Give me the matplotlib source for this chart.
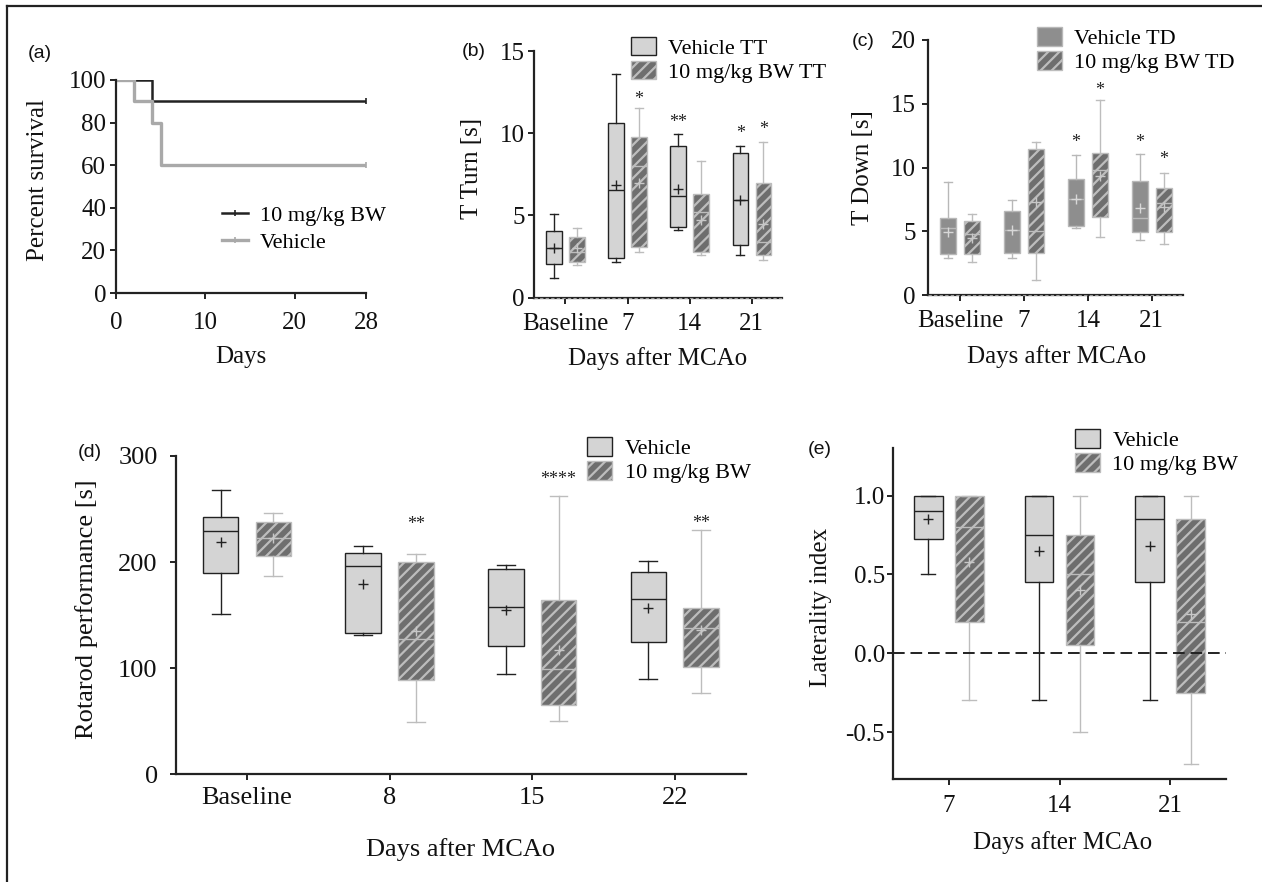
import matplotlib
matplotlib.use("Agg")
import matplotlib.pyplot as plt
from matplotlib.patches import Patch
from matplotlib.lines import Line2D
import matplotlib.transforms as mtransforms

# ---------------- data ----------------
# (a) survival
a_days_drug = [0, 4, 28]
a_surv_drug = [100, 90, 90]
a_days_veh = [0, 2, 4, 5, 28]
a_surv_veh = [100, 90, 80, 60, 60]
a_xticks = [0, 10, 20, 28]
a_yticks = [0, 20, 40, 60, 80, 100]

# (b) T Turn
b_categories = ["Baseline", "7", "14", "21"]
b_veh_low = [1.2, 2.17, 4.09, 2.57]
b_veh_q1 = [2.03, 2.41, 4.32, 3.18]
b_veh_med = [3.0, 6.53, 6.16, 5.92]
b_veh_q3 = [4.03, 10.64, 9.24, 8.82]
b_veh_high = [5.07, 13.58, 9.97, 9.2]
b_veh_mean = [3.04, 6.85, 6.63, 5.92]
b_drug_low = [1.99, 2.78, 2.57, 2.29]
b_drug_q1 = [2.15, 3.06, 2.78, 2.57]
b_drug_med = [2.75, 8.0, 5.21, 3.39]
b_drug_q3 = [3.67, 9.79, 6.28, 6.99]
b_drug_high = [4.26, 11.51, 8.29, 9.49]
b_drug_mean = [3.0, 6.95, 4.72, 4.48]
b_veh_stars = ["", "", "**", "*"]
b_veh_star_y = [0, 0, 11.0, 10.3]
b_drug_stars = ["", "*", "", "*"]
b_drug_star_y = [0, 12.4, 0, 10.54]

# (c) T Down
c_categories = ["Baseline", "7", "14", "21"]
c_veh_low = [2.88, 2.88, 5.23, 4.29]
c_veh_q1 = [3.19, 3.32, 5.41, 4.92]
c_veh_med = [5.28, 5.1, 7.5, 6.07]
c_veh_q3 = [6.01, 6.56, 9.12, 8.94]
c_veh_high = [8.84, 7.45, 10.95, 11.06]
c_veh_mean = [4.97, 5.1, 7.5, 6.8]
c_drug_low = [2.56, 1.18, 4.55, 3.97]
c_drug_q1 = [3.19, 3.27, 6.14, 4.92]
c_drug_med = [4.76, 5.02, 9.8, 7.22]
c_drug_q3 = [5.83, 11.45, 11.14, 8.37]
c_drug_high = [6.38, 12.03, 15.29, 9.57]
c_drug_mean = [4.5, 7.3, 9.33, 6.94]
c_veh_stars = ["", "", "*", "*"]
c_veh_star_y = [0, 0, 12.4, 12.4]
c_drug_stars = ["", "", "*", "*"]
c_drug_star_y = [0, 0, 16.5, 11.1]

# (d) Rotarod
d_categories = ["Baseline", "8", "15", "22"]
d_veh_low = [151.4, 131, 94.6, 90.2]
d_veh_q1 = [189.4, 133.5, 120.6, 124.4]
d_veh_med = [229, 196.4, 157.7, 165]
d_veh_q3 = [242.5, 208.6, 193.2, 190.4]
d_veh_high = [267.7, 215.5, 197.3, 201.4]
d_veh_mean = [218.7, 179.7, 154.6, 157]
d_drug_low = [186.6, 49, 50.3, 76.3]
d_drug_q1 = [205.5, 88.9, 65, 100.8]
d_drug_med = [222.7, 127.5, 99.3, 137.6]
d_drug_q3 = [237.5, 199.8, 164, 156.5]
d_drug_high = [246, 208, 262.3, 230.6]
d_drug_mean = [223, 135, 117, 136]
d_drug_stars = ["", "**", "****", "**"]
d_drug_star_y = [0, 240.6, 282.7, 242]

# (e) Laterality index
e_categories = ["7", "14", "21"]
e_veh_low = [0.5, -0.3, -0.3]
e_veh_q1 = [0.726, 0.45, 0.45]
e_veh_med = [0.9, 0.75, 0.85]
e_veh_q3 = [1.0, 1.0, 1.0]
e_veh_high = [1.0, 1.0, 1.0]
e_veh_mean = [0.85, 0.65, 0.68]
e_drug_low = [-0.3, -0.5, -0.7]
e_drug_q1 = [0.2, 0.05, -0.25]
e_drug_med = [0.8, 0.5, 0.2]
e_drug_q3 = [1.0, 0.75, 0.85]
e_drug_high = [1.0, 1.0, 1.0]
e_drug_mean = [0.58, 0.4, 0.25]
e_yticks = [-0.5, 0.0, 0.5, 1.0]
e_yticklabels = ["-0.5", "0.0", "0.5", "1.0"]

# ---------------- style ----------------
SERIF = ["Liberation Serif", "DejaVu Serif"]
SANS = ["Liberation Sans", "DejaVu Sans"]
plt.rcParams["font.family"] = SERIF
plt.rcParams["hatch.linewidth"] = 1.6

W, H = 1262, 882
fig = plt.figure(figsize=(W / 100, H / 100), dpi=100)

DARK = "#222222"
LIGHT_FACE = "#d4d4d4"
HATCH_FACE = "#6e6e6e"
HATCH_EDGE = "#bdbdbd"
SOLID_FACE = "#8e8e8e"
SOLID_EDGE = "#b8b8b8"
HATCH = "///"


def add_ax(l, t, r, b):
    return fig.add_axes([l / W, 1 - b / H, (r - l) / W, (b - t) / H])


def fx(x):
    return x / W


def fy(y):
    return 1 - y / H


def style_axes(ax, labelsize=18, xpad=7, ypad=3):
    for s in ("top", "right"):
        ax.spines[s].set_visible(False)
    for s in ("left", "bottom"):
        ax.spines[s].set_linewidth(1.6)
        ax.spines[s].set_color(DARK)
    ax.tick_params(direction="out", length=4, width=1.4, color=DARK,
                   labelsize=labelsize, labelcolor="#111111")
    ax.tick_params(axis="x", pad=xpad)
    ax.tick_params(axis="y", pad=ypad)


def make_stats(lo, q1, med, q3, hi, mean):
    return [dict(whislo=a, q1=b, med=c, q3=d, whishi=e, mean=f, fliers=[])
            for a, b, c, d, e, f in zip(lo, q1, med, q3, hi, mean)]


def draw_boxes(ax, stats, positions, width, kind):
    if kind == "light":
        face, edge, line, lw = LIGHT_FACE, DARK, DARK, 1.0
        hatch = None
        meancol = DARK
    elif kind == "solid":
        face, edge, line, lw = SOLID_FACE, SOLID_EDGE, SOLID_EDGE, 1.0
        hatch = None
        meancol = "#d8d8d8"
    else:
        face, edge, line, lw = HATCH_FACE, HATCH_EDGE, HATCH_EDGE, 1.0
        hatch = HATCH
        meancol = "#c8c8c8"
    bp = dict(facecolor=face, edgecolor=edge, linewidth=lw)
    if hatch:
        bp["hatch"] = hatch
    ax.bxp(stats, positions=positions, widths=width, patch_artist=True,
           showmeans=True, showfliers=False, manage_ticks=False,
           boxprops=bp,
           whiskerprops=dict(color=line, linewidth=1.0),
           capprops=dict(color=line, linewidth=1.0),
           medianprops=dict(color=line, linewidth=1.0),
           meanprops=dict(marker="+", markeredgecolor=meancol,
                          markerfacecolor=meancol, markersize=7,
                          markeredgewidth=1.0))


def draw_stars(ax, positions, stars, ys, fs=13):
    tr = mtransforms.offset_copy(ax.transData, fig=fig, y=-0.56 * fs, units="points")
    for x, s, y in zip(positions, stars, ys):
        if s:
            ax.text(x, y, s, ha="center", va="baseline", fontsize=fs,
                    color=DARK, transform=tr)


def box_legend(ax, labels, kinds, anchor_px, fs=16):
    handles = []
    for kind in kinds:
        if kind == "light":
            handles.append(Patch(facecolor=LIGHT_FACE, edgecolor=DARK, linewidth=1.0))
        elif kind == "solid":
            handles.append(Patch(facecolor=SOLID_FACE, edgecolor=SOLID_EDGE, linewidth=1.0))
        else:
            handles.append(Patch(facecolor=HATCH_FACE, edgecolor=HATCH_EDGE,
                                 linewidth=1.0, hatch=HATCH))
    ax.legend(handles, labels, loc="upper left",
              bbox_to_anchor=(fx(anchor_px[0]), fy(anchor_px[1])),
              bbox_transform=fig.transFigure, frameon=False, fontsize=fs,
              borderpad=0, borderaxespad=0, handlelength=1.13,
              handleheight=0.92, handletextpad=0.55, labelspacing=0.1)


def axis_label(x, y, s, rot=0, fs=18):
    fig.text(fx(x), fy(y), s, ha="center", va="center", rotation=rot,
             fontsize=fs, color="#111111")


def panel_letter(x, y, s):
    fig.text(fx(x), fy(y), s, ha="center", va="center", fontsize=14,
             family=SANS, color="#111111")


# figure border (left and top)
fig.add_artist(Line2D([fx(7), fx(7)], [0, fy(6)], color=DARK, lw=1.6,
                      transform=fig.transFigure))
fig.add_artist(Line2D([fx(7), 1], [fy(6), fy(6)], color=DARK, lw=1.6,
                      transform=fig.transFigure))

OFF = 0.185

# ---------------- (a) ----------------
axa = add_ax(116, 80, 366, 293)
axa.step(a_days_drug, a_surv_drug, where="post", color=DARK, lw=1.8, label="10 mg/kg BW")
axa.step(a_days_veh, a_surv_veh, where="post", color="#a9a9a9", lw=2.4, label="Vehicle")
axa.plot(a_days_drug[-1], a_surv_drug[-1], marker="|", color=DARK, ms=5, mew=1.2)
axa.plot(a_days_veh[-1], a_surv_veh[-1], marker="|", color="#a9a9a9", ms=5, mew=1.2)
axa.set_xlim(0, 28)
axa.set_ylim(0, 100)
axa.set_xticks(a_xticks)
axa.set_yticks(a_yticks)
style_axes(axa, labelsize=18, xpad=10, ypad=3)
a_handles = [Line2D([], [], color=DARK, lw=1.8, marker="|", ms=5, mew=1.2),
             Line2D([], [], color="#a9a9a9", lw=2.4, marker="|", ms=5, mew=1.2)]
axa.legend(a_handles, ["10 mg/kg BW", "Vehicle"], loc="upper left",
           bbox_to_anchor=(fx(222), fy(205)), bbox_transform=fig.transFigure,
           frameon=False, fontsize=16, borderpad=0, borderaxespad=0,
           handlelength=1.17, handletextpad=0.55, labelspacing=0.3)
axis_label(38, 180, "Percent survival", rot=90)
axis_label(241, 357, "Days")
panel_letter(40, 54, "(a)")

# ---------------- (b) ----------------
axb = add_ax(534.3, 51, 781.7, 297.7)
pos = list(range(len(b_categories)))
draw_boxes(axb, make_stats(b_veh_low, b_veh_q1, b_veh_med, b_veh_q3, b_veh_high, b_veh_mean),
           [p - OFF for p in pos], 0.25, "light")
draw_boxes(axb, make_stats(b_drug_low, b_drug_q1, b_drug_med, b_drug_q3, b_drug_high, b_drug_mean),
           [p + OFF for p in pos], 0.25, "hatch")
draw_stars(axb, [p - OFF for p in pos], b_veh_stars, b_veh_star_y)
draw_stars(axb, [p + OFF for p in pos], b_drug_stars, b_drug_star_y)
axb.axhline(0, color="#9a9a9a", lw=0.8, ls=(0, (3, 2)), clip_on=False, zorder=5)
axb.set_xlim(-0.5, 3.48)
axb.set_ylim(0, 15)
axb.set_yticks([0, 5, 10, 15])
axb.set_xticks(pos)
axb.set_xticklabels(b_categories)
style_axes(axb, labelsize=18, xpad=7, ypad=3)
box_legend(axb, ["Vehicle TT", "10 mg/kg BW TT"], ["light", "hatch"], (630.7, 36.5))
axis_label(472, 168, "T Turn [s]", rot=90)
axis_label(658, 359, "Days after MCAo")
panel_letter(473.5, 52, "(b)")

# ---------------- (c) ----------------
axc = add_ax(928.3, 40, 1183, 295)
pos = list(range(len(c_categories)))
draw_boxes(axc, make_stats(c_veh_low, c_veh_q1, c_veh_med, c_veh_q3, c_veh_high, c_veh_mean),
           [p - OFF for p in pos], 0.25, "solid")
draw_boxes(axc, make_stats(c_drug_low, c_drug_q1, c_drug_med, c_drug_q3, c_drug_high, c_drug_mean),
           [p + OFF for p in pos], 0.25, "hatch")
draw_stars(axc, [p - OFF for p in pos], c_veh_stars, c_veh_star_y)
draw_stars(axc, [p + OFF for p in pos], c_drug_stars, c_drug_star_y)
axc.axhline(0, color="#9a9a9a", lw=0.8, ls=(0, (3, 2)), clip_on=False, zorder=5)
axc.set_xlim(-0.5, 3.49)
axc.set_ylim(0, 20)
axc.set_yticks([0, 5, 10, 15, 20])
axc.set_xticks(pos)
axc.set_xticklabels(c_categories)
style_axes(axc, labelsize=18, xpad=7, ypad=5)
box_legend(axc, ["Vehicle TD", "10 mg/kg BW TD"], ["solid", "hatch"], (1036.7, 27))
axis_label(863, 168, "T Down [s]", rot=90)
axis_label(1056.7, 357, "Days after MCAo")
panel_letter(863, 41.5, "(c)")

# ---------------- (d) ----------------
axd = add_ax(175.7, 456, 746, 774.3)
pos = list(range(len(d_categories)))
draw_boxes(axd, make_stats(d_veh_low, d_veh_q1, d_veh_med, d_veh_q3, d_veh_high, d_veh_mean),
           [p - OFF for p in pos], 0.25, "light")
draw_boxes(axd, make_stats(d_drug_low, d_drug_q1, d_drug_med, d_drug_q3, d_drug_high, d_drug_mean),
           [p + OFF for p in pos], 0.25, "hatch")
draw_stars(axd, [p + OFF for p in pos], d_drug_stars, d_drug_star_y)
axd.set_xlim(-0.5, 3.5)
axd.set_ylim(0, 300)
axd.set_yticks([0, 100, 200, 300])
axd.set_xticks(pos)
axd.set_xticklabels(d_categories)
style_axes(axd, labelsize=19, xpad=5, ypad=9)
box_legend(axd, ["Vehicle", "10 mg/kg BW"], ["light", "hatch"], (587.3, 437))
axis_label(86.5, 609, "Rotarod performance [s]", rot=90, fs=19)
axis_label(461, 850, "Days after MCAo", fs=19)
panel_letter(90, 452, "(d)")

# ---------------- (e) ----------------
axe = add_ax(893.3, 448.3, 1225.7, 779.3)
pos = list(range(len(e_categories)))
draw_boxes(axe, make_stats(e_veh_low, e_veh_q1, e_veh_med, e_veh_q3, e_veh_high, e_veh_mean),
           [p - OFF for p in pos], 0.26, "light")
draw_boxes(axe, make_stats(e_drug_low, e_drug_q1, e_drug_med, e_drug_q3, e_drug_high, e_drug_mean),
           [p + OFF for p in pos], 0.26, "hatch")
axe.axhline(0, color=DARK, lw=1.4, ls=(0, (6, 3)), zorder=5)
axe.set_xlim(-0.5, 2.5)
axe.set_ylim(-0.8, 1.3)
axe.set_yticks(e_yticks)
axe.set_yticklabels(e_yticklabels)
axe.set_xticks(pos)
axe.set_xticklabels(e_categories)
style_axes(axe, labelsize=18, xpad=7, ypad=2)
box_legend(axe, ["Vehicle", "10 mg/kg BW"], ["light", "hatch"], (1075, 429))
axis_label(821, 607, "Laterality index", rot=90)
axis_label(1063, 843, "Days after MCAo")
panel_letter(819.5, 449, "(e)")

fig.savefig("out.png", dpi=100)
